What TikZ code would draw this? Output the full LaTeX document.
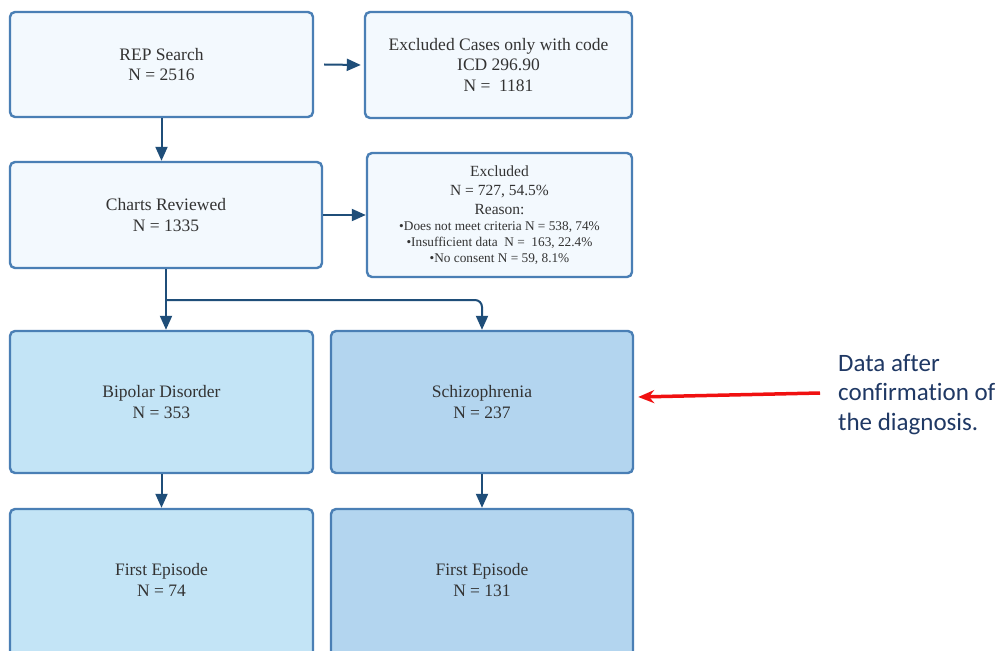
\documentclass[tikz,border=0pt]{standalone}
\usepackage{fontspec}
\setmainfont{Liberation Serif}
\newfontfamily\notefont[Ligatures=NoCommon]{Carlito}
\usetikzlibrary{arrows.meta}
\definecolor{bordc}{HTML}{4A7FB5}
\definecolor{paleF}{HTML}{F3F9FE}
\definecolor{bipF}{HTML}{C3E4F6}
\definecolor{schF}{HTML}{B3D5EF}
\definecolor{arrc}{HTML}{1F4E79}
\definecolor{txtc}{HTML}{333333}
\definecolor{notec}{HTML}{1F3864}
\definecolor{redc}{HTML}{F01010}
\tikzset{
  box/.style={draw=bordc, line width=2.4pt, rounded corners=5pt, align=center,
    text=txtc, font=\fontsize{17.5}{20.5}\selectfont, inner sep=0pt},
  palebox/.style={box, fill=paleF},
  bipbox/.style={box, fill=bipF},
  schbox/.style={box, fill=schF},
  flow/.style={draw=arrc, line width=2pt, -{Triangle[length=14pt,width=12pt]}},
  redarrow/.style={draw=redc, line width=3.5pt, -{Stealth[length=16pt,width=13pt]}},
  boxtext/.style={text=txtc, font=\fontsize{17.5}{20.5}\selectfont, align=center},
}
\begin{document}
\begin{tikzpicture}[x=1pt,y=-1pt]
\useasboundingbox (0,0) rectangle (1003,650);
\fill[white] (0,0) rectangle (1003,650);
\node[palebox, minimum width=303pt, minimum height=105pt] (rep) at (161.5,64.5) {REP Search\\N = 2516};
\node[palebox, minimum width=267pt, minimum height=106pt] (ex1) at (498.5,65) {Excluded Cases only with code\\ICD 296.90\\N =~ 1181};
\node[palebox, minimum width=312pt, minimum height=106pt] (chart) at (166,215) {Charts Reviewed\\N = 1335};
\node[palebox, minimum width=265pt, minimum height=124pt, font=\fontsize{15.5}{19}\selectfont] (ex2) at (499.5,215)
  {Excluded\\N = 727, 54.5\%\\Reason:\\[-3pt]{\fontsize{13.3}{16}\selectfont •Does not meet criteria N = 538, 74\%}\\[-3pt]{\fontsize{13.3}{16}\selectfont •Insufficient data~ N =~ 163, 22.4\%}\\[-3pt]{\fontsize{13.3}{16}\selectfont •No consent N = 59, 8.1\%}};
\node[bipbox, minimum width=303pt, minimum height=142pt] (bip) at (161.5,402) {Bipolar Disorder\\N = 353};
\node[schbox, minimum width=302pt, minimum height=142pt] (sch) at (482,402) {Schizophrenia\\N = 237};
\node[bipbox, minimum width=303pt, minimum height=150pt] (fe1) at (161.5,584) {};
\node[schbox, minimum width=302pt, minimum height=150pt] (fe2) at (482,584) {};
\node[boxtext] (fe1t) at (161.5,580) {First Episode\\N = 74};
\node[boxtext] (fe2t) at (482,580) {First Episode\\N = 131};
\coordinate (repout) at ([xshift=10pt]rep.east);
\draw[flow] (repout) -- ([xshift=-3pt]ex1.west);
\draw[flow] (rep.south) -- (chart.north -| rep.south);
\draw[flow] (chart.east) -- (chart.east -| ex2.west);
\coordinate (cbase) at (chart.south);
\coordinate (branch) at (166,300);
\draw[flow] (cbase) -- (bip.north -| cbase);
\draw[flow, rounded corners=7pt] (branch) -- (branch -| sch.north) -- (sch.north);
\draw[flow] (bip.south) -- (fe1.north);
\draw[flow] (sch.south) -- (fe2.north);
\node[anchor=north west, align=left, text=notec, inner sep=0pt, font=\notefont\fontsize{25}{29.5}\selectfont] (note) at (838,354) {Data after\\confirmation of\\the diagnosis.};
\coordinate (redstart) at (820,393);
\draw[redarrow] (redstart) -- ([xshift=4pt,yshift=5pt]sch.east);
\end{tikzpicture}
\end{document}
